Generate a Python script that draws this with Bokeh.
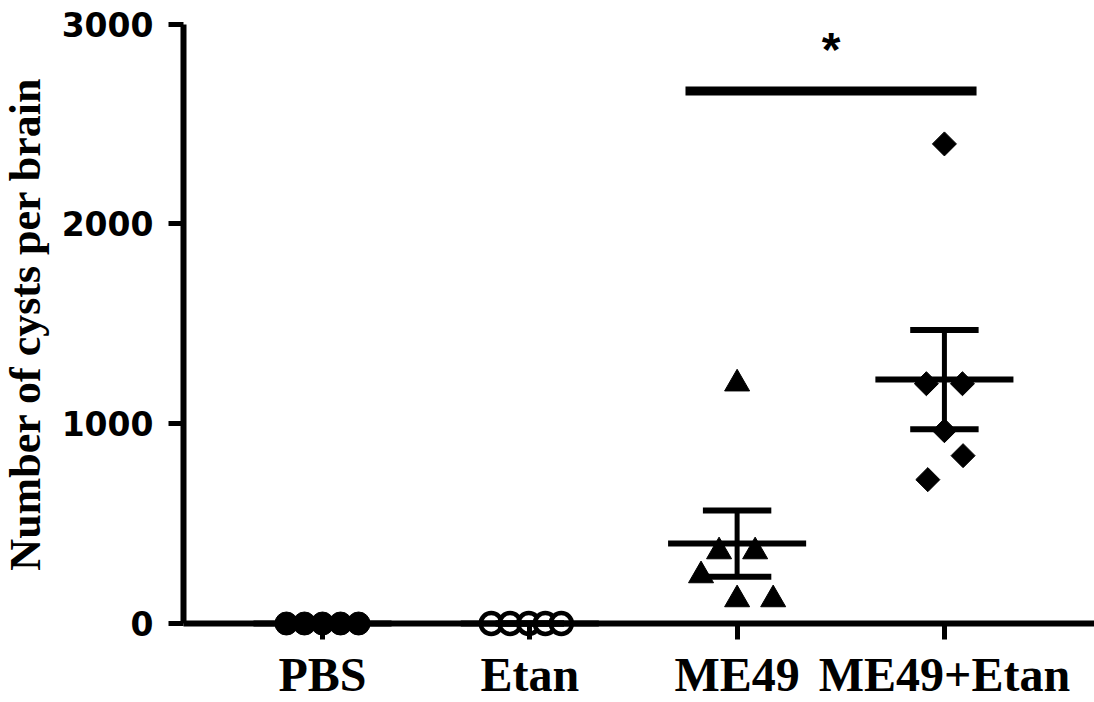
import numpy as np
from bokeh.plotting import figure
from bokeh.models import Range1d, FixedTicker
from bokeh.embed import file_html
from bokeh.resources import INLINE
from bokeh.core.properties import value

# ---------------- data ----------------
groups = ["PBS", "Etan", "ME49", "ME49+Etan"]
pbs = [0, 0, 0, 0, 0]
etan = [0, 0, 0, 0, 0]
me49 = [1200, 360, 360, 240, 120, 120]
me49_etan = [2400, 1200, 1200, 965, 840, 720]
y_ticks = [0, 1000, 2000, 3000]
y_label = "Number of cysts per brain"
sig_pair = ["ME49", "ME49+Etan"]
sig_y = 2665
sig_text = "*"

series = [pbs, etan, me49, me49_etan]

# ---------------- layout / style ----------------
X_START, X_END = -1.5533, 3.724      # frame covers the whole canvas
Y_START, Y_END = -395.3, 3117.7
Y_AXIS_X = -0.6705                   # where the y axis line sits
spread = [
    [-0.174, -0.087, 0.0, 0.087, 0.174],
    [-0.186, -0.095, -0.005, 0.075, 0.152],
    [0.0, -0.087, 0.087, -0.174, 0.0, 0.174],
    [0.0, -0.087, 0.087, 0.0, 0.09, -0.08],
]
markers = [
    dict(marker="circle", size=23, fill_color="black", line_color="black", line_width=1),
    dict(marker="circle", size=21, fill_color="white", line_color="black", line_width=4.5),
    dict(marker="triangle", size=25, fill_color="black", line_color="black", line_width=1),
    dict(marker="square", size=17, angle=np.pi / 4, fill_color="black", line_color="black", line_width=1),
]
MEAN_HW = 0.333
CAP_HW = 0.165

p = figure(
    width=1094, height=702,
    x_range=Range1d(X_START, X_END),
    y_range=Range1d(Y_START, Y_END),
    output_backend="svg", toolbar_location=None,
    min_border_left=0, min_border_right=0,
    min_border_top=0, min_border_bottom=0,
)
p.outline_line_color = None
p.grid.visible = False
p.background_fill_color = "white"
p.border_fill_color = "white"

# points
for i, (vals, off, mk) in enumerate(zip(series, spread, markers)):
    xs = [i + o for o in off]
    p.scatter(x=xs, y=vals, **mk)

# mean and SEM
for i, vals in enumerate(series):
    arr = np.asarray(vals, dtype=float)
    m = arr.mean()
    sem = arr.std(ddof=1) / np.sqrt(len(arr))
    p.segment(x0=[i - MEAN_HW], y0=[m], x1=[i + MEAN_HW], y1=[m],
              line_color="black", line_width=6, line_cap="butt")
    p.segment(x0=[i], y0=[m - sem], x1=[i], y1=[m + sem],
              line_color="black", line_width=5, line_cap="butt")
    p.segment(x0=[i - CAP_HW, i - CAP_HW], y0=[m - sem, m + sem],
              x1=[i + CAP_HW, i + CAP_HW], y1=[m - sem, m + sem],
              line_color="black", line_width=6, line_cap="butt")

# significance bar
i0 = groups.index(sig_pair[0])
i1 = groups.index(sig_pair[1])
bx0, bx1 = i0 - 0.249, i1 + 0.155
p.segment(x0=[bx0], y0=[sig_y], x1=[bx1], y1=[sig_y],
          line_color="black", line_width=9, line_cap="butt")
p.text(x=[(bx0 + bx1) / 2], y=[sig_y], text=[sig_text],
       text_font=value("Liberation Sans"), text_font_style="bold",
       text_font_size="48px", text_align="center", text_baseline="middle",
       x_offset=0, y_offset=-41, text_color="black")

# y axis title
p.text(x=[Y_AXIS_X], y=[(y_ticks[0] + y_ticks[-1]) / 2], text=[y_label],
       angle=np.pi / 2, x_offset=-158,
       text_font=value("Liberation Serif"), text_font_style="bold",
       text_font_size="44px", text_align="center", text_baseline="middle",
       text_color="black")

# x axis (drawn at y = 0)
xa = p.xaxis[0]
xa.fixed_location = 0
xa.bounds = (Y_AXIS_X, X_END)
xa.ticker = FixedTicker(ticks=list(range(len(groups))))
xa.major_label_overrides = {i: g for i, g in enumerate(groups)}
xa.minor_tick_line_color = None
xa.axis_line_width = 6
xa.axis_line_color = "black"
xa.major_tick_line_width = 5
xa.major_tick_line_color = "black"
xa.major_tick_out = 16
xa.major_tick_in = 0
xa.major_label_standoff = 8
xa.major_label_text_font = "Liberation Serif"
xa.major_label_text_font_style = "bold"
xa.major_label_text_font_size = "48px"
xa.major_label_text_color = "black"

# y axis (drawn at x = Y_AXIS_X)
ya = p.yaxis[0]
ya.fixed_location = Y_AXIS_X
ya.bounds = (y_ticks[0], y_ticks[-1])
ya.ticker = FixedTicker(ticks=y_ticks)
ya.minor_tick_line_color = None
ya.axis_line_width = 6
ya.axis_line_color = "black"
ya.major_tick_line_width = 5
ya.major_tick_line_color = "black"
ya.major_tick_out = 15
ya.major_tick_in = 0
ya.major_label_standoff = 15
ya.major_label_text_font = "DejaVu Sans"
ya.major_label_text_font_style = "bold"
ya.major_label_text_font_size = "33px"
ya.major_label_text_color = "black"

open("out.html", "w").write(file_html(p, INLINE))
